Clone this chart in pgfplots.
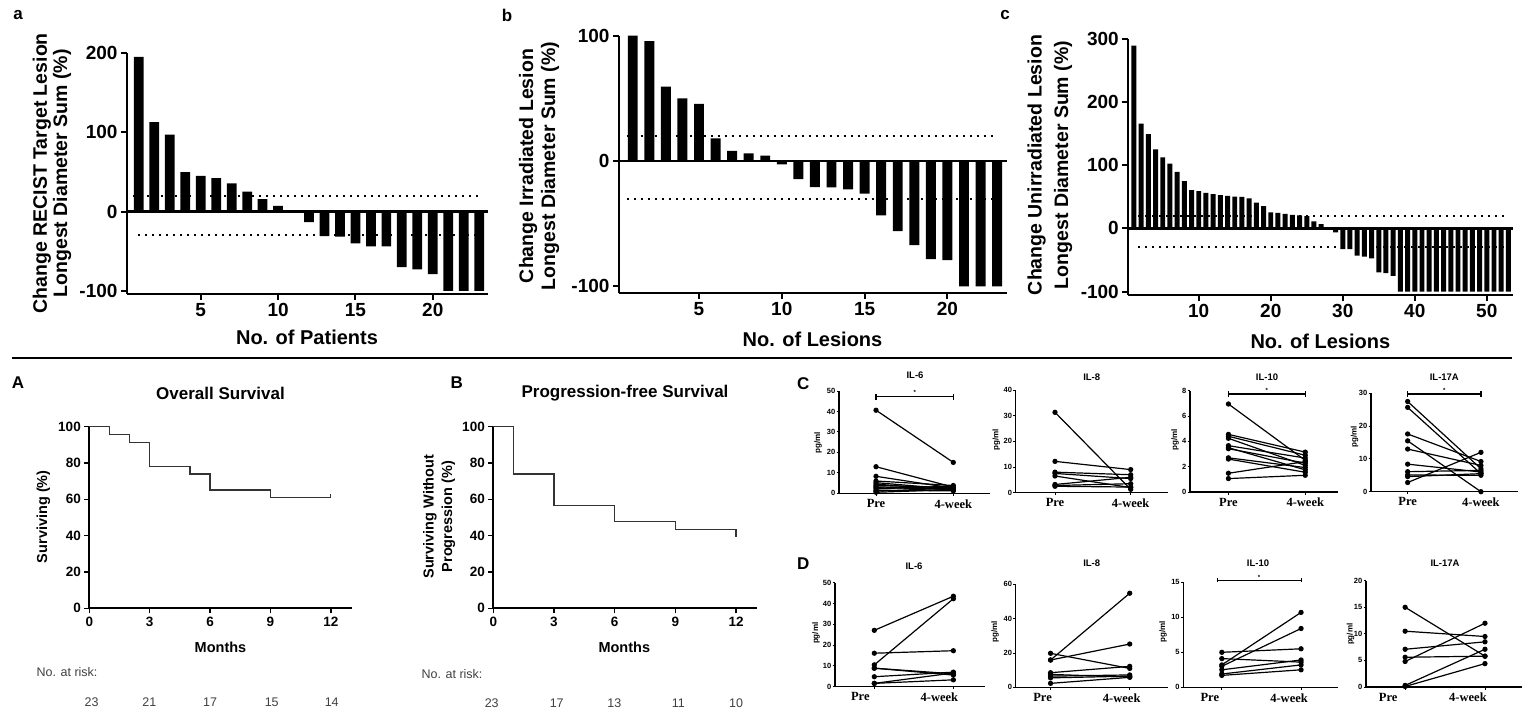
\documentclass[border=0pt]{standalone}
\usepackage{fontspec}
\setmainfont{Liberation Sans}
\newfontfamily\tms{Liberation Serif}
\usepackage{pgfplots}
\pgfplotsset{compat=1.18}
\newcommand\fs[1]{\fontsize{#1}{#1}\selectfont}

\pgfplotsset{
  base/.style={scale only axis, axis lines=left, tick align=outside, clip=false,
    /pgf/number format/assume math mode=true, tick style={black}},
  wf/.style={base, ybar, axis line style={-, line width=2.2pt}, major tick length=6pt,
    tick style={line width=2pt}, ticklabel style={font=\bfseries\fs{19}}},
  km/.style={base, axis line style={-, line width=1.8pt}, major tick length=5pt,
    tick style={line width=1.6pt}, ticklabel style={font=\bfseries\fs{13.5}},
    xmin=0, ymin=0, ymax=100, xtick={0,3,6,9,12}, ytick={0,20,40,60,80,100}, height=181.6pt},
  cy/.style={base, axis line style={-, line width=1.1pt}, major tick length=2.5pt,
    tick style={line width=0.9pt}, yticklabel style={font=\bfseries\fs{7.5}, inner sep=1pt},
    xtick={1,2}, xticklabels={Pre,4-week}, xticklabel style={font=\tms\bfseries\fs{12.5}},
    ymin=0},
  pp/.style={black, line width=1.2pt, mark=*, mark size=2pt},
}
\tikzset{wfdot/.style={line width=2.2pt, dash pattern=on 2.2pt off 4.8pt}}

\begin{document}
\begin{tikzpicture}[x=1pt,y=1pt]
\useasboundingbox (0,0) rectangle (1522,715);

% ---------- waterfall a ----------
\begin{axis}[wf, at={(127pt,421pt)}, anchor=south west, width=361pt, height=241pt,
  xmin=0.233, xmax=23.57, ymin=-104, ymax=200, bar width=0.63,
  xtick={5,10,15,20}, ytick={-100,0,100,200}, yticklabels={-100,0,100,200}]
\draw[wfdot] (axis cs:0.62,20) -- (axis cs:22.9,20);
\draw[wfdot] (axis cs:0.96,-30) -- (axis cs:22.9,-30);
\addplot[fill=black, draw=none] coordinates {
 (1,195) (2,112.7) (3,97) (4,49.8) (5,45) (6,42) (7,35.4) (8,25) (9,15.6) (10,7.2)
 (11,0) (12,-13.5) (13,-31) (14,-31.6) (15,-40) (16,-44) (17,-44) (18,-70) (19,-73)
 (20,-79) (21,-100) (22,-100) (23,-100)};
\draw[line width=2.2pt] (axis cs:0.233,0) -- (axis cs:23.57,0);
\end{axis}

% ---------- waterfall b ----------
\begin{axis}[wf, at={(619pt,422.3pt)}, anchor=south west, width=387.7pt, height=257pt,
  xmin=0.17, xmax=23.58, ymin=-105, ymax=100, bar width=0.6,
  xtick={5,10,15,20}, ytick={-100,0,100}, yticklabels={-100,0,100}]
\draw[wfdot] (axis cs:0.63,20) -- (axis cs:23,20);
\draw[wfdot] (axis cs:0.63,-30) -- (axis cs:23,-30);
\addplot[fill=black, draw=none] coordinates {
 (1,100) (2,95.7) (3,59.3) (4,50) (5,45.7) (6,18) (7,8.2) (8,6.1) (9,4.3) (10,-2.7)
 (11,-14.4) (12,-20.7) (13,-21) (14,-22.6) (15,-26) (16,-43.4) (17,-55.9) (18,-67)
 (19,-78.2) (20,-79) (21,-100) (22,-100) (23,-100)};
\draw[line width=2.2pt] (axis cs:0.17,0) -- (axis cs:23.58,0);
\end{axis}

% ---------- waterfall c ----------
\begin{axis}[wf, at={(1128.3pt,420.3pt)}, anchor=south west, width=384.4pt, height=255.7pt,
  xmin=0.22, xmax=53.6, ymin=-105, ymax=300, bar width=0.69,
  xtick={10,20,30,40,50}, ytick={-100,0,100,200,300}, yticklabels={-100,0,100,200,300}]
\draw[wfdot] (axis cs:1.6,20) -- (axis cs:53,20);
\draw[wfdot] (axis cs:1.6,-30) -- (axis cs:53,-30);
\addplot[fill=black, draw=none] coordinates {
 (1,289.5) (2,165.8) (3,149.5) (4,125.3) (5,112.6) (6,102.6) (7,89.5) (8,74.7) (9,60.5)
 (10,59) (11,56.3) (12,54.2) (13,52.6) (14,51.6) (15,50.5) (16,50) (17,47.4) (18,41)
 (19,35.3) (20,25.3) (21,24.7) (22,23.2) (23,21.6) (24,20.5) (25,19.5) (26,11) (27,6.8)
 (28,0) (29,-6.3) (30,-33) (31,-33) (32,-43) (33,-44.7) (34,-47.4) (35,-69.5) (36,-71)
 (37,-75.3) (38,-100) (39,-100) (40,-100) (41,-100) (42,-100) (43,-100) (44,-100)
 (45,-100) (46,-100) (47,-100) (48,-100) (49,-100) (50,-100) (51,-100) (52,-100) (53,-100)};
\draw[line width=2.2pt] (axis cs:0.22,0) -- (axis cs:53.6,0);
\end{axis}

% top labels
\node[font=\bfseries\fs{17}] at (18,700) {a};
\node[font=\bfseries\fs{17}] at (507,700) {b};
\node[font=\bfseries\fs{17}] at (1005,700) {c};
\node[font=\bfseries\fs{19.5}, rotate=90] at (42,541.7) {Change RECIST Target Lesion};
\node[font=\bfseries\fs{19.5}, rotate=90] at (62,541.7) {Longest Diameter Sum (\%)};
\node[font=\bfseries\fs{19.5}, rotate=90] at (528,549) {Change Irradiated Lesion};
\node[font=\bfseries\fs{19.5}, rotate=90] at (550,549) {Longest Diameter Sum (\%)};
\node[font=\bfseries\fs{19.5}, rotate=90] at (1036.7,550) {Change Unirradiated Lesion};
\node[font=\bfseries\fs{19.5}, rotate=90] at (1063,550) {Longest Diameter Sum (\%)};
\node[font=\bfseries\fs{20}] at (307,377.7) {No. of Patients};
\node[font=\bfseries\fs{20}] at (812.5,375.7) {No. of Lesions};
\node[font=\bfseries\fs{20}] at (1320.3,373.3) {No. of Lesions};

\draw[line width=2.5pt] (12,357) -- (1512,357);

% ---------- KM A ----------
\begin{axis}[km, at={(89.3pt,106.7pt)}, anchor=south west, width=262.4pt, xmax=13.04]
\addplot[const plot, line width=1.3pt, black!80] coordinates {
 (0,100) (1,95.65) (2,91.30) (3,78.26) (5,73.91) (6,65.22) (9,60.87) (12,60.87)};
\addplot[line width=1.3pt, black!80] coordinates {(12,60.87) (12,63)};
\end{axis}

% ---------- KM B ----------
\begin{axis}[km, at={(493.3pt,106.7pt)}, anchor=south west, width=264pt, xmax=13.05]
\addplot[const plot, line width=1.3pt, black!80] coordinates {
 (0,100) (1,73.91) (3,56.52) (6,47.83) (9,43.48) (12,39.13)};
\end{axis}

\node[font=\bfseries\fs{17}] at (18,332) {A};
\node[font=\bfseries\fs{17}] at (456.7,332) {B};
\node[font=\bfseries\fs{17}] at (220.5,322) {Overall Survival};
\node[font=\bfseries\fs{17}] at (625,322) {Progression-free Survival};
\node[font=\bfseries\fs{14.5}, rotate=90] at (43.3,198.3) {Surviving (\%)};
\node[font=\bfseries\fs{14.5}, rotate=90] at (430,198.3) {Surviving Without};
\node[font=\bfseries\fs{14.5}, rotate=90] at (448.3,198.3) {Progression (\%)};
\node[font=\bfseries\fs{14.5}] at (220.5,67.7) {Months};
\node[font=\bfseries\fs{14.5}] at (624.3,67.7) {Months};
\node[font=\fs{12.5}, text=black!75, anchor=base west] at (33,38.5) {No. at risk:};
\node[font=\fs{12.5}, text=black!75, anchor=base west] at (418,37) {No. at risk:};
\foreach \x/\n in {91.7/23,149.3/21,210/17,271.7/15,331.7/14}
  \node[font=\fs{12.5}, text=black!75, anchor=base] at (\x,9) {\n};
\foreach \x/\n in {491.7/23,556.7/17,614.3/13,678.3/11,736/10}
  \node[font=\fs{12.5}, text=black!75, anchor=base] at (\x,7.4) {\n};

% ---------- C: IL-6 ----------
\begin{axis}[cy, at={(839pt,221.7pt)}, anchor=south west, width=151pt, height=102.3pt,
  xmin=0.521, xmax=2.475, ymax=50, ytick={0,10,20,30,40,50}]
\addplot[pp] coordinates {(1,40.6) (2,15.1)};
\addplot[pp] coordinates {(1,13) (2,3)};
\addplot[pp] coordinates {(1,8.3) (2,2.5)};
\addplot[pp] coordinates {(1,6) (2,3.8)};
\addplot[pp] coordinates {(1,5.2) (2,2)};
\addplot[pp] coordinates {(1,4.5) (2,1.5)};
\addplot[pp] coordinates {(1,3.8) (2,2.8)};
\addplot[pp] coordinates {(1,3.2) (2,1.8)};
\addplot[pp] coordinates {(1,2.7) (2,2.2)};
\addplot[pp] coordinates {(1,2.2) (2,3.5)};
\addplot[pp] coordinates {(1,1.5) (2,1.2)};
\addplot[pp] coordinates {(1,1) (2,2.6)};
\addplot[pp] coordinates {(1,0.5) (2,1.8)};
\draw[line width=1.2pt] (axis cs:1,47.2) -- (axis cs:2,47.2);
\draw[line width=1.2pt] ([yshift=-3pt]axis cs:1,47.2) -- ([yshift=3pt]axis cs:1,47.2);
\draw[line width=1.2pt] ([yshift=-3pt]axis cs:2,47.2) -- ([yshift=3pt]axis cs:2,47.2);
\node[font=\bfseries\fs{6}] at ([yshift=4pt]axis cs:1.5,47.2) {*};
\end{axis}

% ---------- C: IL-8 ----------
\begin{axis}[cy, at={(1015.7pt,222.3pt)}, anchor=south west, width=152pt, height=102.7pt,
  xmin=0.481, xmax=2.489, ymax=40, ytick={0,10,20,30,40}]
\addplot[pp] coordinates {(1,31.3) (2,1.3)};
\addplot[pp] coordinates {(1,12.2) (2,9)};
\addplot[pp] coordinates {(1,8) (2,7)};
\addplot[pp] coordinates {(1,7.5) (2,5.5)};
\addplot[pp] coordinates {(1,6.5) (2,2)};
\addplot[pp] coordinates {(1,3.2) (2,6)};
\addplot[pp] coordinates {(1,2.8) (2,3.5)};
\addplot[pp] coordinates {(1,2.5) (2,2.2)};
\end{axis}

% ---------- C: IL-10 ----------
\begin{axis}[cy, at={(1190pt,223pt)}, anchor=south west, width=148.3pt, height=101.3pt,
  xmin=0.5, xmax=2.43, ymax=8, ytick={0,2,4,6,8}]
\addplot[pp] coordinates {(1,6.95) (2,2.5)};
\addplot[pp] coordinates {(1,4.55) (2,3.15)};
\addplot[pp] coordinates {(1,4.4) (2,2.9)};
\addplot[pp] coordinates {(1,4.24) (2,2.1)};
\addplot[pp] coordinates {(1,3.66) (2,2.68)};
\addplot[pp] coordinates {(1,3.5) (2,1.75)};
\addplot[pp] coordinates {(1,3.42) (2,2.28)};
\addplot[pp] coordinates {(1,2.7) (2,1.93)};
\addplot[pp] coordinates {(1,2.6) (2,1.56)};
\addplot[pp] coordinates {(1,1.48) (2,2.4)};
\addplot[pp] coordinates {(1,1.06) (2,1.32)};
\draw[line width=1.2pt] (axis cs:1,7.74) -- (axis cs:2,7.74);
\draw[line width=1.2pt] ([yshift=-3pt]axis cs:1,7.74) -- ([yshift=3pt]axis cs:1,7.74);
\draw[line width=1.2pt] ([yshift=-3pt]axis cs:2,7.74) -- ([yshift=3pt]axis cs:2,7.74);
\node[font=\bfseries\fs{6}] at ([yshift=4pt]axis cs:1.5,7.74) {*};
\end{axis}

% ---------- C: IL-17A ----------
\begin{axis}[cy, at={(1371pt,223.3pt)}, anchor=south west, width=147.3pt, height=98.4pt,
  xmin=0.5, xmax=2.51, ymax=30, ytick={0,10,20,30}]
\addplot[pp] coordinates {(1,27.5) (2,7)};
\addplot[pp] coordinates {(1,25.7) (2,5.5)};
\addplot[pp] coordinates {(1,17.6) (2,9.2)};
\addplot[pp] coordinates {(1,15.5) (2,0)};
\addplot[pp] coordinates {(1,13) (2,8)};
\addplot[pp] coordinates {(1,8.4) (2,6)};
\addplot[pp] coordinates {(1,6.1) (2,6.5)};
\addplot[pp] coordinates {(1,5.1) (2,5)};
\addplot[pp] coordinates {(1,4.6) (2,5.5)};
\addplot[pp] coordinates {(1,2.8) (2,12)};
\draw[line width=1.2pt] (axis cs:1,29.8) -- (axis cs:2,29.8);
\draw[line width=1.2pt] ([yshift=-3pt]axis cs:1,29.8) -- ([yshift=3pt]axis cs:1,29.8);
\draw[line width=1.2pt] ([yshift=-3pt]axis cs:2,29.8) -- ([yshift=3pt]axis cs:2,29.8);
\node[font=\bfseries\fs{6}] at ([yshift=4pt]axis cs:1.5,29.8) {*};
\end{axis}

% ---------- D: IL-6 ----------
\begin{axis}[cy, at={(835pt,28.3pt)}, anchor=south west, width=150pt, height=104pt,
  xmin=0.503, xmax=2.4, ymax=50, ytick={0,10,20,30,40,50},
  xticklabel style={xshift=-14pt}]
\addplot[pp] coordinates {(1,27.1) (2,43.5)};
\addplot[pp] coordinates {(1,10.5) (2,42.3)};
\addplot[pp] coordinates {(1,16.1) (2,17.3)};
\addplot[pp] coordinates {(1,8.9) (2,6.2)};
\addplot[pp] coordinates {(1,8.9) (2,5.6)};
\addplot[pp] coordinates {(1,4.8) (2,7)};
\addplot[pp] coordinates {(1,1.6) (2,3.3)};
\addplot[pp] coordinates {(1,1.6) (2,6.6)};
\end{axis}

% ---------- D: IL-8 ----------
\begin{axis}[cy, at={(1015.7pt,27.7pt)}, anchor=south west, width=152pt, height=103pt,
  xmin=0.56, xmax=2.48, ymax=60, ytick={0,20,40,60},
  xticklabel style={xshift=-8pt}]
\addplot[pp] coordinates {(1,15.9) (2,54.8)};
\addplot[pp] coordinates {(1,15.9) (2,25.2)};
\addplot[pp] coordinates {(1,19.8) (2,11)};
\addplot[pp] coordinates {(1,8.5) (2,12.2)};
\addplot[pp] coordinates {(1,7.5) (2,6)};
\addplot[pp] coordinates {(1,6.5) (2,7.2)};
\addplot[pp] coordinates {(1,5.5) (2,6.5)};
\addplot[pp] coordinates {(1,2.3) (2,5.8)};
\end{axis}

% ---------- D: IL-10 ----------
\begin{axis}[cy, at={(1183.3pt,27.7pt)}, anchor=south west, width=155pt, height=105pt,
  xmin=0.514, xmax=2.47, ymax=15, ytick={0,5,10,15},
  xticklabel style={xshift=-12pt}]
\addplot[pp] coordinates {(1,3.2) (2,10.7)};
\addplot[pp] coordinates {(1,3) (2,8.4)};
\addplot[pp] coordinates {(1,5) (2,5.5)};
\addplot[pp] coordinates {(1,4.1) (2,3.6)};
\addplot[pp] coordinates {(1,2.5) (2,3.9)};
\addplot[pp] coordinates {(1,1.9) (2,3.2)};
\addplot[pp] coordinates {(1,1.7) (2,2.5)};
\draw[line width=0.8pt] (axis cs:0.94,15.33) -- (axis cs:2,15.33);
\draw[line width=0.8pt] ([yshift=-2pt]axis cs:0.94,15.33) -- ([yshift=2pt]axis cs:0.94,15.33);
\draw[line width=0.8pt] ([yshift=-2pt]axis cs:2,15.33) -- ([yshift=2pt]axis cs:2,15.33);
\node[font=\bfseries\fs{6}] at ([yshift=3pt]axis cs:1.47,15.33) {*};
\end{axis}

% ---------- D: IL-17A ----------
\begin{axis}[cy, at={(1366pt,28pt)}, anchor=south west, width=155.7pt, height=106.3pt,
  xmin=0.51, xmax=2.46, ymax=20, ytick={0,5,10,15,20},
  xticklabel style={xshift=-17pt}]
\addplot[pp] coordinates {(1,15) (2,5.8)};
\addplot[pp] coordinates {(1,10.5) (2,9.5)};
\addplot[pp] coordinates {(1,7.1) (2,8.5)};
\addplot[pp] coordinates {(1,5.6) (2,5.8)};
\addplot[pp] coordinates {(1,4.8) (2,12)};
\addplot[pp] coordinates {(1,0.3) (2,7.1)};
\addplot[pp] coordinates {(1,0.1) (2,4.4)};
\end{axis}

% C/D labels
\node[font=\bfseries\fs{17}] at (803.3,331) {C};
\node[font=\bfseries\fs{17}] at (803.3,151) {D};
\foreach \x/\y/\t in {915/340/IL-6, 1091.7/337.7/IL-8, 1267/337.7/IL-10, 1444.3/337.7/IL-17A,
  914/148.3/IL-6, 1091.7/151.7/IL-8, 1258/151.7/IL-10, 1445/151.7/IL-17A}
  \node[font=\bfseries\fs{9.5}] at (\x,\y) {\t};
\foreach \x/\y in {818/272, 996.3/275, 1175/275, 1354.5/278.3,
  816/81.7, 995/83.3, 1163/83.3, 1350.5/80.7}
  \node[font=\bfseries\fs{8}, rotate=90] at (\x,\y) {pg/ml};
\end{tikzpicture}
\end{document}
